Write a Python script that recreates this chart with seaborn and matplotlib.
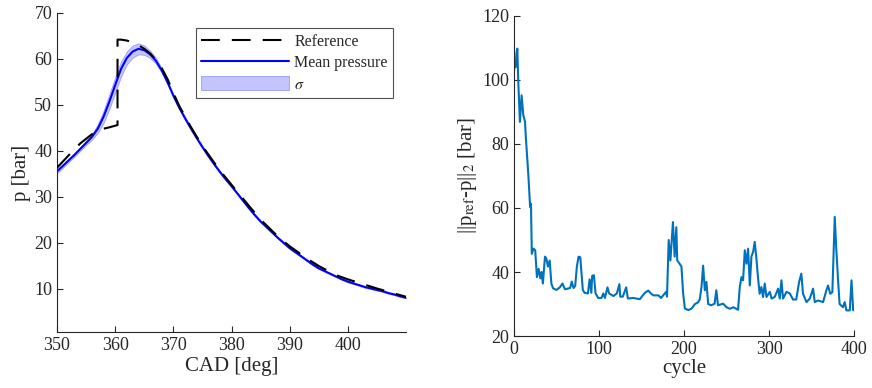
import matplotlib
matplotlib.use("Agg")
import matplotlib.pyplot as plt
import seaborn as sns
import numpy as np
import pandas as pd

# ---------------- data: left panel ----------------
cad = [350, 351, 352, 353, 354, 355, 356, 357, 358, 359, 360, 361, 362, 363, 364,
       365, 366, 367, 368, 369, 370, 371, 372, 373, 374, 375, 376, 377, 378, 379,
       380, 381, 382, 383, 384, 385, 386, 387, 388, 389, 390, 391, 392, 393, 394,
       395, 396, 397, 398, 399, 400, 401, 402, 403, 404, 405, 406, 407, 408, 409, 410]
mean_p = [35.5, 36.7, 37.9, 39.1, 40.4, 41.7, 43.0, 44.8, 47.4, 50.7, 54.3, 57.8, 60.2, 61.6, 62.2,
          61.9, 61.0, 59.6, 57.5, 54.9, 52.0, 49.4, 47.1, 44.9, 42.8, 40.8, 38.9, 37.1, 35.4, 33.8,
          32.3, 30.7, 29.1, 27.5, 26.0, 24.6, 23.4, 22.2, 21.0, 19.9, 18.8, 17.9, 17.0, 16.1, 15.2,
          14.4, 13.8, 13.2, 12.6, 12.0, 11.5, 11.1, 10.7, 10.3, 10.0, 9.7, 9.4, 9.0, 8.7, 8.3, 8.0]
sigma_p = [0.4, 0.4, 0.4, 0.4, 0.4, 0.45, 0.6, 0.9, 1.3, 1.6, 1.7, 1.6, 1.4, 1.3, 1.2,
           1.0, 0.8, 0.6, 0.45, 0.35, 0.3, 0.3, 0.3, 0.3, 0.3, 0.25, 0.25, 0.25, 0.25, 0.25,
           0.2, 0.2, 0.2, 0.2, 0.2, 0.2, 0.2, 0.2, 0.2, 0.2, 0.2, 0.2, 0.2, 0.2, 0.2,
           0.15, 0.15, 0.15, 0.15, 0.15, 0.15, 0.15, 0.15, 0.15, 0.15, 0.15, 0.15, 0.15, 0.15, 0.15, 0.15]

ref_cad = [350, 352, 354, 356, 357, 358, 359, 360.4, 360.4, 361, 362, 363, 364, 365, 366, 367,
           368, 369, 370, 371, 373, 375, 378, 380, 383, 385, 388, 390, 393, 395, 398, 400, 405, 410]
ref_p = [36.3, 39.0, 41.6, 43.6, 44.3, 44.8, 45.1, 45.6, 64.2, 64.2, 64.0, 63.6, 63.0, 62.2, 61.2, 59.8,
         58.0, 55.6, 52.6, 49.8, 45.2, 41.0, 35.7, 32.6, 28.0, 25.0, 21.3, 19.2, 16.5, 14.9, 12.9, 12.0, 10.0, 8.2]

# ---------------- data: right panel ----------------
cycles = [0, 1, 2, 3, 4, 5, 7, 9, 11, 13, 14, 17, 19, 20, 21, 23, 25, 27, 29, 31, 32.5, 34, 36.5,
          38, 40, 42, 44, 46, 50, 54, 57, 60, 66, 68, 70, 72, 74, 76, 78, 81, 83, 87, 89, 91, 92,
          94, 96, 99, 103, 105, 107, 110, 112, 117, 121, 124, 125, 128, 132, 134, 140, 148, 154,
          158, 161, 164, 170, 173, 179, 180, 182, 184, 187, 189, 191, 192, 195, 197, 199, 201,
          205, 209, 213, 216.5, 218.6, 220.6, 222.5, 224.5, 226.4, 228.4, 232, 236, 238, 240,
          246, 250, 254, 258, 263.6, 265.6, 267.6, 269.5, 271.5, 273.5, 275.4, 277.4, 279.3,
          281.3, 283.2, 285, 287, 289, 291, 293, 295, 297, 301, 303, 306.7, 310.7, 312.6, 314.6,
          316.5, 320.5, 324.4, 328.3, 332, 335.4, 338, 340, 344, 348, 351.8, 353.8, 357.7, 363.6,
          367.5, 369.4, 372, 374.5, 377.3, 379, 381, 383, 387, 389, 391, 395, 397, 399]
err = [102.5, 106.0, 104.0, 108.5, 109.8, 100.0, 86.9, 95.2, 89.0, 87.0, 82.0, 70.0, 60.3, 61.3,
       45.7, 47.3, 46.8, 38.4, 41.0, 38.0, 40.0, 36.4, 44.8, 44.3, 41.7, 43.6, 36.4, 34.9, 34.4,
       35.2, 36.4, 34.6, 35.0, 37.0, 35.0, 35.6, 41.7, 44.8, 44.6, 34.4, 33.5, 33.3, 37.7, 33.5,
       38.8, 39.0, 33.3, 31.9, 31.9, 33.3, 31.9, 35.2, 33.3, 32.5, 33.3, 36.2, 32.3, 32.3, 35.2,
       31.7, 31.9, 31.5, 33.5, 34.2, 33.3, 32.7, 32.7, 31.9, 33.8, 32.3, 50.0, 43.6, 55.6, 44.8,
       54.0, 43.6, 42.5, 41.7, 33.3, 28.6, 28.1, 28.6, 30.0, 30.5, 31.5, 35.4, 42.0, 34.3, 36.9,
       30.0, 29.6, 30.1, 34.3, 29.6, 30.1, 29.0, 28.5, 29.0, 28.2, 35.3, 38.4, 37.4, 46.8, 42.6,
       47.3, 35.8, 44.8, 46.3, 49.4, 44.7, 38.4, 33.2, 35.3, 32.2, 36.4, 32.2, 33.8, 31.7, 32.2,
       34.8, 31.7, 37.4, 31.7, 33.8, 33.3, 31.4, 31.4, 36.9, 39.5, 33.2, 30.6, 31.7, 34.8, 30.6,
       31.1, 30.6, 34.3, 35.8, 33.2, 33.7, 57.2, 47.8, 38.4, 30.0, 29.0, 30.6, 28.0, 28.0, 37.4, 28.0]

# ---------------- style ----------------
sns.set_style("ticks")
plt.rcParams['font.family'] = ['Liberation Serif', 'DejaVu Serif']
plt.rcParams['mathtext.fontset'] = 'stix'
txt = '#262626'
plt.rcParams.update({
    'text.color': txt, 'axes.labelcolor': txt, 'xtick.color': txt, 'ytick.color': txt,
    'axes.edgecolor': txt, 'xtick.direction': 'in', 'ytick.direction': 'in',
    'xtick.major.size': 4, 'ytick.major.size': 4, 'axes.linewidth': 0.8,
})

fig = plt.figure(figsize=(8.72, 3.88), dpi=100)
ax1 = fig.add_axes([0.0654, 0.144, 0.4002, 0.8225])
ax2 = fig.add_axes([0.5894, 0.134, 0.3900, 0.8248])

df_mean = pd.DataFrame({'cad': cad, 'p': mean_p, 's': sigma_p})
df_ref = pd.DataFrame({'cad': ref_cad, 'p': ref_p})

lo = df_mean['p'] - df_mean['s']
hi = df_mean['p'] + df_mean['s']
ax1.fill_between(df_mean['cad'], lo, hi, color='#c4c4ff', edgecolor='#9a9aff', linewidth=0.6,
                 label=r'$\sigma$', zorder=1)
sns.lineplot(data=df_ref, x='cad', y='p', ax=ax1, color='black', linewidth=1.5,
             dashes=False, sort=False, estimator=None, label='Reference', zorder=3)
ax1.lines[-1].set_dashes((9, 5.8))
sns.lineplot(data=df_mean, x='cad', y='p', ax=ax1, color='#0000ff', linewidth=1.5,
             sort=False, estimator=None, label='Mean pressure', zorder=2)

ax1.set_xlim(350, 410)
ax1.set_ylim(0.5, 70)
ax1.set_xticks([350, 360, 370, 380, 390, 400])
ax1.set_yticks([10, 20, 30, 40, 50, 60, 70])
ax1.set_xlabel('CAD [deg]', fontsize=15, labelpad=2)
ax1.set_ylabel('p [bar]', fontsize=15, labelpad=2)
ax1.tick_params(labelsize=13)
for s in ['top', 'right']:
    ax1.spines[s].set_visible(False)

h, l = ax1.get_legend_handles_labels()
order = [l.index('Reference'), l.index('Mean pressure'), l.index(r'$\sigma$')]
leg = ax1.legend([h[i] for i in order], [l[i] for i in order], loc='upper right',
                 bbox_to_anchor=(0.963, 0.953), fontsize=11.5, frameon=True, fancybox=False,
                 edgecolor=txt, handlelength=5.5, handleheight=0.9, borderpad=0.35,
                 labelspacing=0.33, handletextpad=0.3, borderaxespad=0.0)
leg.get_frame().set_linewidth(0.8)

df_err = pd.DataFrame({'cycle': cycles, 'err': err})
sns.lineplot(data=df_err, x='cycle', y='err', ax=ax2, color='#0072BD', linewidth=1.5,
             sort=False, estimator=None)
ax2.set_xlim(0, 400)
ax2.set_ylim(20, 120)
ax2.set_xticks([0, 100, 200, 300, 400])
ax2.set_yticks([20, 40, 60, 80, 100, 120])
ax2.set_xlabel('cycle', fontsize=15, labelpad=1)
ax2.set_ylabel(r'||p$_{\mathrm{ref}}$-p||$_{2}$ [bar]', fontsize=15, labelpad=2)
ax2.tick_params(labelsize=13)
for s in ['top', 'right']:
    ax2.spines[s].set_visible(False)

fig.savefig('out.png', dpi=100)
